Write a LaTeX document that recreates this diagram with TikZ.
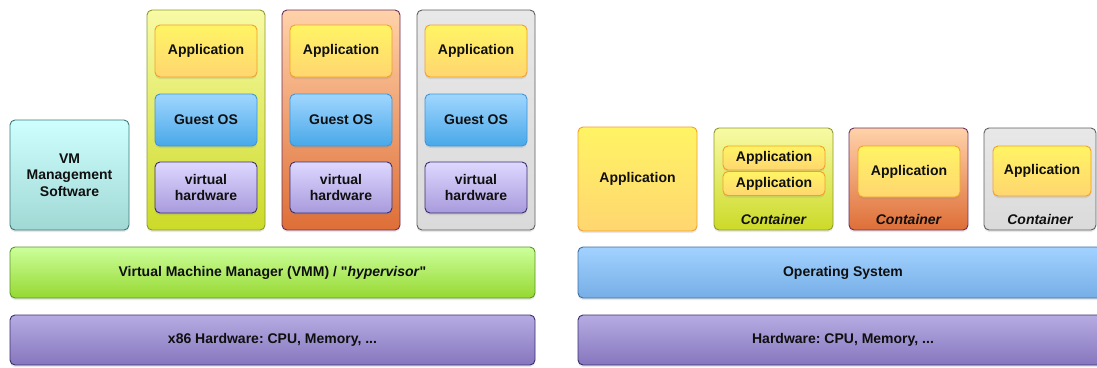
\documentclass[tikz,border=0pt]{standalone}
\usepackage{fontspec}
\setmainfont{Liberation Sans}
\usetikzlibrary{shadows}
\frenchspacing
\newcommand{\straightquote}{\XeTeXglyph\XeTeXcharglyph"22\relax}
\definecolor{appT}{RGB}{255,244,100}
\definecolor{appB}{RGB}{255,214,112}
\definecolor{appD}{RGB}{242,160,40}
\definecolor{osT}{RGB}{160,214,255}
\definecolor{osB}{RGB}{72,168,232}
\definecolor{osD}{RGB}{60,150,220}
\definecolor{vhT}{RGB}{222,216,255}
\definecolor{vhB}{RGB}{168,154,220}
\definecolor{vhD}{RGB}{60,46,110}
\definecolor{ygT}{RGB}{248,250,165}
\definecolor{ygB}{RGB}{204,218,40}
\definecolor{ygD}{RGB}{140,155,45}
\definecolor{orT}{RGB}{255,210,170}
\definecolor{orB}{RGB}{222,110,55}
\definecolor{orD}{RGB}{110,46,90}
\definecolor{grT}{RGB}{232,232,232}
\definecolor{grB}{RGB}{218,218,218}
\definecolor{grD}{RGB}{95,95,95}
\definecolor{tlT}{RGB}{206,255,255}
\definecolor{tlB}{RGB}{160,216,212}
\definecolor{tlD}{RGB}{60,122,120}
\definecolor{gnT}{RGB}{204,255,155}
\definecolor{gnB}{RGB}{150,216,50}
\definecolor{gnD}{RGB}{90,150,40}
\definecolor{hwT}{RGB}{182,172,226}
\definecolor{hwB}{RGB}{134,118,190}
\definecolor{hwD}{RGB}{60,46,110}
\definecolor{obT}{RGB}{162,210,255}
\definecolor{obB}{RGB}{118,174,230}
\definecolor{obD}{RGB}{60,110,160}
\definecolor{txt}{RGB}{15,15,15}
\tikzset{
  box/.style={rectangle, rounded corners=5pt, line width=0.9pt, inner sep=0pt, outer sep=0pt,
    font=\fontsize{14}{16.5}\selectfont\bfseries, text=txt, align=center,
    drop shadow={shadow xshift=0pt, shadow yshift=-2pt, opacity=0.18}},
  appbox/.style={box, draw=appD, top color=appT, bottom color=appB},
  osbox/.style={box, draw=osD, top color=osT, bottom color=osB},
  vhbox/.style={box, draw=vhD, top color=vhT, bottom color=vhB},
  ygbox/.style={box, draw=ygD, top color=ygT, bottom color=ygB},
  orbox/.style={box, draw=orD, top color=orT, bottom color=orB},
  grbox/.style={box, draw=grD, top color=grT, bottom color=grB},
  tlbox/.style={box, draw=tlD, top color=tlT, bottom color=tlB},
  gnbox/.style={box, draw=gnD, top color=gnT, bottom color=gnB},
  hwbox/.style={box, draw=hwD, top color=hwT, bottom color=hwB},
  obbox/.style={box, draw=obD, top color=obT, bottom color=obB},
  sz/.style n args={2}{minimum width=#1pt, minimum height=#2pt},
  clabel/.style={font=\fontsize{14}{16}\selectfont\bfseries\itshape, text=txt, inner sep=0pt},
}
\begin{document}
\begin{tikzpicture}[x=1pt,y=-1pt]
\useasboundingbox (0,0) rectangle (1097,367);
\clip (0,0) rectangle (1097,367);
% ---------- left: VMs ----------
\node[tlbox, sz={119}{110}] (mgmt) at (69.5,175) {VM\\Management\\Software};
\node[ygbox, sz={118}{220}] (vm1) at (206,120) {};
\node[orbox, sz={118}{220}] (vm2) at (341,120) {};
\node[grbox, sz={118}{220}] (vm3) at (476,120) {};
\foreach \i/\cx in {1/206,2/341,3/476}{
  \node[appbox, sz={102}{52}] (app\i) at (\cx,51) {Application};
  \node[osbox, sz={102}{52}] (gos\i) at (\cx,120) {Guest OS};
  \node[vhbox, sz={102}{51}] (vhw\i) at (\cx,187.5) {virtual\\hardware};
}
\node[gnbox, sz={525}{51}] (vmm) at (272.5,272.5) {Virtual Machine Manager (VMM) / \straightquote\textit{hypervisor}\straightquote};
\node[hwbox, sz={525}{50}] (x86) at (272.5,340) {x86 Hardware: CPU, Memory, ...};
% ---------- right: containers ----------
\node[appbox, sz={119}{104}] (bigapp) at (637.5,179) {Application};
\node[ygbox, sz={119}{102}] (c1) at (773.5,179) {};
\node[appbox, sz={102}{24}] (c1a) at (774,158) {Application};
\node[appbox, sz={102}{24}] (c1b) at (774,183.5) {Application};
\node[clabel] (c1l) at (773.5,219) {Container};
\node[orbox, sz={119}{102}] (c2) at (908.5,179) {};
\node[appbox, sz={102}{51}] (c2a) at (909,171.5) {Application};
\node[clabel] (c2l) at (908.5,219) {Container};
\node[grbox, sz={112}{102}] (c3) at (1040,179) {};
\node[appbox, sz={98}{50}] (c3a) at (1042,171) {Application};
\node[clabel] (c3l) at (1040,219) {Container};
\node[obbox, sz={530}{51}] (os) at (843,272.5) {Operating System};
\node[hwbox, sz={530}{50}] (hw) at (843,340) {Hardware: CPU, Memory, ...};
\end{tikzpicture}
\end{document}
